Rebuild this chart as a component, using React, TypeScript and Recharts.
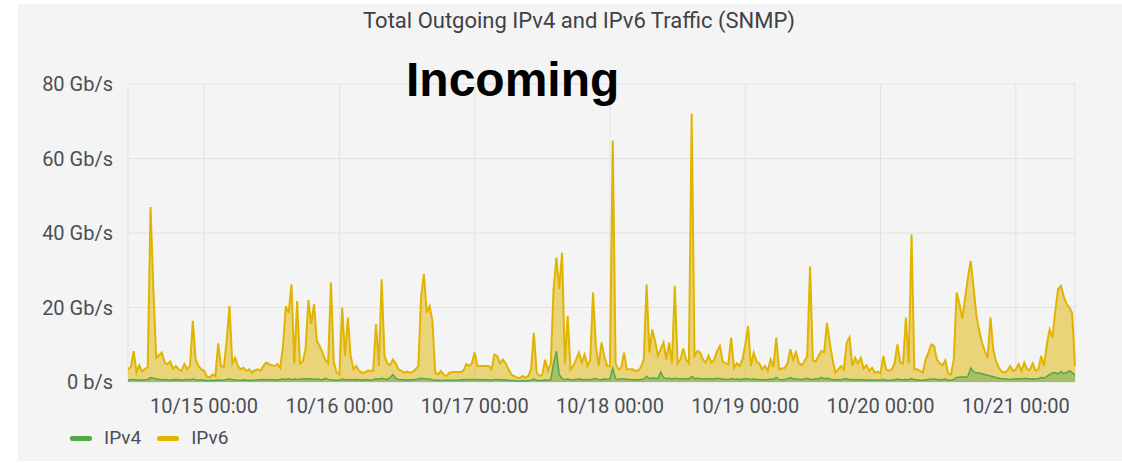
import {
  ComposedChart,
  Area,
  XAxis,
  YAxis,
  CartesianGrid,
} from "recharts";

// Traffic in Gb/s, one sample every 30 minutes, starting 10/14 10:30.
const START_HOUR = 10.5;
const STEP_HOURS = 0.5;

const ipv6Oct14 = [
  3.4, 4, 8.3, 2.6, 4.5, 2.8, 3.5, 4, 47, 25, 6.5, 7.2, 7.9, 5.2, 4.8, 5.5,
  3.5, 4.3, 3.4, 3, 4.8, 3.4, 4.3, 16.4, 6, 4.3, 3.4,
];
const ipv6Oct15 = [
  3, 1.5, 1.2, 2, 1.6, 10.4, 4.3, 4, 11, 20.4, 5, 6.5, 4.3, 3.4, 3.8, 3, 3.4,
  2.5, 3.2, 3.4, 3, 4.3, 5.2, 4.8, 4.5, 4.3, 4.8, 3.8, 9.7, 20.4, 18.5, 26.2,
  5, 21.7, 5, 5.5, 8.8, 22, 15.6, 20.9, 11, 9.7, 7.9, 6, 5, 26.7, 5.5, 2.5,
];
const ipv6Oct16 = [
  2, 20, 7, 17.3, 7, 3.4, 4.3, 3, 2.5, 2.5, 3, 3, 3, 15.5, 4.3, 27.6, 7, 5,
  4.5, 6, 5, 3.4, 3, 2.5, 2.8, 2.5, 2.7, 3.4, 4.3, 23, 29, 18.6, 20.4, 16.5,
  2.5, 2, 3, 2, 1.6, 2.5, 2.6, 2.7, 2.7, 2.7, 3, 4.8, 4.3, 5,
];
const ipv6Oct17 = [
  7.9, 4.3, 4.3, 4.3, 4.3, 4.3, 3.4, 7.4, 7, 5, 6, 5, 3.4, 2, 1.6, 1.2, 1,
  1.6, 1.2, 1.6, 3.4, 13.2, 2.5, 1.6, 2, 6, 3, 5, 25, 33.4, 25, 34.7, 5, 17.7,
  3.4, 4.3, 6, 7.9, 5.2, 7.4, 4.3, 6, 24, 9.7, 4.3, 10.6, 6.9, 4.3,
];
const ipv6Oct18 = [
  4.3, 64.8, 5, 3.4, 3.8, 7.9, 3.4, 3.4, 3.4, 3, 3, 4, 6, 26.2, 7.9, 14.1, 11,
  7, 8.8, 10.6, 6, 10.6, 5, 25.8, 5, 6, 9, 6, 5, 72.1, 7, 8.3, 7.9, 6, 5.2, 7,
  5.2, 6, 8.3, 9.7, 5.5, 5, 4.8, 11.9, 3.8, 5, 4.3, 6,
];
const ipv6Oct19 = [
  10, 15, 4.3, 7.9, 5.5, 5, 3.4, 4.3, 3, 6, 4, 11.9, 3.4, 3.6, 3.8, 5, 8.8, 6,
  8, 5.2, 4.5, 5.5, 7, 31, 5.8, 5.5, 7, 8.3, 8, 15.9, 10.5, 6, 2.5, 3.4, 4.3,
  3.4, 10.6, 12, 4.3, 6.5, 5, 6.5, 3.6, 4.5, 3, 3.8, 2.5, 2.8,
];
const ipv6Oct20 = [
  2.3, 7, 3.4, 3, 3.4, 5, 10.1, 5.2, 5, 17.3, 5, 39.6, 3.4, 3.4, 3, 2.5, 6,
  7.9, 10.1, 9.7, 6, 5, 4.5, 5.8, 2.2, 2, 6, 24, 21, 17, 22.5, 28, 32.5, 25.5,
  18, 13.8, 10.6, 8.3, 6.5, 17.3, 8.8, 5.5, 3.8, 2.8, 2.5, 3, 4.3, 3,
];
const ipv6Oct21 = [
  3.4, 4.8, 3, 5.2, 3.4, 3.2, 5, 3, 3.4, 7, 4.3, 10, 14.1, 12, 19, 24.9, 25.8,
  23, 21, 20, 18.5, 4.3,
];

const ipv4Oct14 = [
  0.5, 0.6, 0.7, 0.5, 0.6, 0.5, 0.6, 0.7, 1.2, 1.0, 0.8, 0.7, 0.6, 0.7, 0.6,
  0.5, 0.6, 0.7, 0.6, 0.5, 0.6, 0.7, 0.6, 0.8, 0.6, 0.5, 0.6,
];
const ipv4Oct15 = [
  0.5, 0.4, 0.4, 0.5, 0.4, 0.6, 0.5, 0.5, 0.7, 0.8, 0.6, 0.6, 0.5, 0.5, 0.6,
  0.5, 0.4, 0.5, 0.5, 0.6, 0.6, 0.7, 0.6, 0.6, 0.7, 0.6, 0.5, 0.7, 0.8, 0.7,
  0.9, 0.6, 0.8, 0.7, 0.7, 0.9, 0.8, 0.9, 0.8, 0.7, 0.8, 0.7, 0.6, 1.0, 0.7,
  0.6, 0.5, 0.5,
];
const ipv4Oct16 = [
  0.5, 0.8, 0.6, 0.7, 0.6, 0.6, 0.7, 0.6, 0.5, 0.6, 0.6, 0.5, 0.6, 0.9, 0.7,
  1.0, 0.8, 0.7, 1.2, 2.0, 1.0, 0.7, 0.6, 0.6, 0.5, 0.6, 0.6, 0.7, 0.8, 1.0,
  0.9, 0.8, 0.8, 0.6, 0.5, 0.5, 0.4, 0.5, 0.5, 0.5, 0.5, 0.5, 0.5, 0.6, 0.6,
  0.7, 0.6, 0.7,
];
const ipv4Oct17 = [
  0.7, 0.6, 0.7, 0.6, 0.6, 0.6, 0.5, 0.7, 0.7, 0.6, 0.6, 0.6, 0.5, 0.4, 0.4,
  0.3, 0.3, 0.4, 0.3, 0.4, 0.5, 0.8, 0.4, 0.4, 0.4, 0.6, 0.5, 0.6, 5.0, 8.3,
  2.0, 0.9, 0.6, 0.8, 0.6, 0.6, 0.7, 0.8, 0.7, 0.6, 0.7, 0.6, 0.8, 0.9, 0.7,
  0.6, 0.8, 0.7,
];
const ipv4Oct18 = [
  0.8, 3.7, 0.9, 0.7, 0.8, 0.9, 0.7, 0.7, 0.6, 0.6, 0.6, 0.7, 0.8, 1.5, 0.9,
  1.1, 1.0, 0.9, 2.7, 1.2, 0.9, 1.0, 0.8, 1.0, 0.9, 0.8, 0.9, 0.8, 0.8, 1.5,
  0.9, 1.0, 0.9, 0.8, 0.8, 0.9, 0.8, 0.9, 1.0, 0.9, 0.8, 0.7, 0.7, 0.9, 0.7,
  0.8, 0.7, 0.8,
];
const ipv4Oct19 = [
  0.8, 0.9, 0.7, 0.8, 0.7, 0.7, 0.6, 0.7, 0.6, 0.8, 0.7, 1.2, 0.7, 0.6, 0.7,
  0.8, 1.2, 0.8, 0.9, 0.7, 0.7, 0.8, 1.0, 0.7, 0.7, 0.8, 0.9, 1.2, 0.9, 1.0,
  0.8, 0.6, 0.6, 0.7, 0.6, 0.8, 0.9, 0.6, 0.7, 0.6, 0.7, 0.6, 0.6, 0.5, 0.6,
  0.5, 0.6, 0.5,
];
const ipv4Oct20 = [
  0.5, 0.7, 0.5, 0.5, 0.5, 0.6, 0.8, 0.6, 0.6, 0.7, 0.6, 0.9, 0.6, 0.6, 0.5,
  0.5, 0.6, 0.7, 0.8, 0.8, 0.7, 0.6, 0.6, 0.8, 0.5, 0.5, 0.7, 1.2, 1.3, 1.4,
  1.3, 1.5, 3.8, 2.7, 2.5, 2.4, 2.2, 2.0, 1.8, 1.6, 1.4, 1.2, 1.0, 0.9, 0.8,
  0.8, 0.7, 0.8,
];
const ipv4Oct21 = [
  0.8, 0.9, 0.8, 1.0, 0.9, 0.8, 0.9, 0.8, 0.9, 1.2, 1.0, 1.5, 2.0, 2.5, 2.5,
  2.2, 2.8, 2.3, 2.5, 3.0, 2.5, 1.8,
];

const xTicks = [24, 48, 72, 96, 120, 144, 168];
const xTickLabels = [
  "10/15 00:00",
  "10/16 00:00",
  "10/17 00:00",
  "10/18 00:00",
  "10/19 00:00",
  "10/20 00:00",
  "10/21 00:00",
];
const yTicks = [0, 20, 40, 60, 80];

const ipv6 = [
  ...ipv6Oct14,
  ...ipv6Oct15,
  ...ipv6Oct16,
  ...ipv6Oct17,
  ...ipv6Oct18,
  ...ipv6Oct19,
  ...ipv6Oct20,
  ...ipv6Oct21,
];
const ipv4 = [
  ...ipv4Oct14,
  ...ipv4Oct15,
  ...ipv4Oct16,
  ...ipv4Oct17,
  ...ipv4Oct18,
  ...ipv4Oct19,
  ...ipv4Oct20,
  ...ipv4Oct21,
];

const GREEN = "#56a64b";
const YELLOW = "#e0b400";
const TEXT = "#4a4e55";
const FONT = "Roboto, 'Noto Sans', sans-serif";

const rows = ipv6.map((v, i) => ({
  h: START_HOUR + i * STEP_HOURS,
  ipv6: v,
  ipv4: ipv4[i],
}));

function LegendItem({ color, label }: { color: string; label: string }) {
  return (
    <div style={{ display: "flex", alignItems: "center", marginRight: 16 }}>
      <div
        style={{
          width: 22,
          height: 5,
          borderRadius: 2,
          background: color,
          marginRight: 12,
        }}
      />
      <span>{label}</span>
    </div>
  );
}

export default function App() {
  return (
    <div
      style={{
        position: "absolute",
        left: 0,
        top: 0,
        width: 1122,
        height: 463,
        background: "#ffffff",
        overflow: "hidden",
        fontFamily: FONT,
      }}
    >
      <div
        style={{
          position: "absolute",
          left: 18,
          top: 4,
          width: 1104,
          height: 457,
          background: "#f4f4f4",
        }}
      />
      <div
        style={{
          position: "absolute",
          left: 0,
          width: 1158,
          top: 6,
          textAlign: "center",
          fontSize: 22,
          fontWeight: 400,
          color: "#3d4148",
          lineHeight: "30px",
        }}
      >
        Total Outgoing IPv4 and IPv6 Traffic (SNMP)
      </div>
      <div style={{ position: "absolute", left: 0, top: 0 }}>
        <ComposedChart
          width={1122}
          height={463}
          data={rows}
          margin={{ top: 84, right: 47, bottom: 51, left: 0 }}
        >
          <CartesianGrid stroke="#e2e2e2" />
          <XAxis
            dataKey="h"
            type="number"
            domain={[START_HOUR, 178.5]}
            ticks={xTicks}
            tickFormatter={(v) => xTickLabels[xTicks.indexOf(v)] ?? ""}
            axisLine={false}
            tickLine={false}
            tickMargin={11}
            height={30}
            tick={{ fill: TEXT, fontSize: 20, fontFamily: FONT }}
            interval={0}
          />
          <YAxis
            type="number"
            domain={[0, 80]}
            ticks={yTicks}
            tickFormatter={(v) => (v === 0 ? "0 b/s" : `${v} Gb/s`)}
            axisLine={false}
            tickLine={false}
            tickMargin={9}
            width={128}
            tick={{ fill: TEXT, fontSize: 20, fontFamily: FONT }}
            interval={0}
          />
          <Area
            type="linear"
            dataKey="ipv6"
            stroke={YELLOW}
            strokeWidth={2}
            fill={YELLOW}
            fillOpacity={0.5}
            dot={false}
            activeDot={false}
            isAnimationActive={false}
          />
          <Area
            type="linear"
            dataKey="ipv4"
            stroke={GREEN}
            strokeWidth={1.5}
            fill={GREEN}
            fillOpacity={0.45}
            dot={false}
            activeDot={false}
            isAnimationActive={false}
          />
        </ComposedChart>
      </div>
      <div
        style={{
          position: "absolute",
          left: 406,
          top: 52,
          width: 212,
          textAlign: "center",
          fontFamily: "'Liberation Sans', Arial, sans-serif",
          fontWeight: 700,
          fontSize: 48,
          lineHeight: "56px",
          color: "#000",
          whiteSpace: "nowrap",
        }}
      >
        Incoming
      </div>
      <div
        style={{
          position: "absolute",
          left: 70,
          top: 426,
          display: "flex",
          fontSize: 19,
          color: TEXT,
          lineHeight: "24px",
        }}
      >
        <LegendItem color={GREEN} label="IPv4" />
        <LegendItem color={YELLOW} label="IPv6" />
      </div>
    </div>
  );
}
